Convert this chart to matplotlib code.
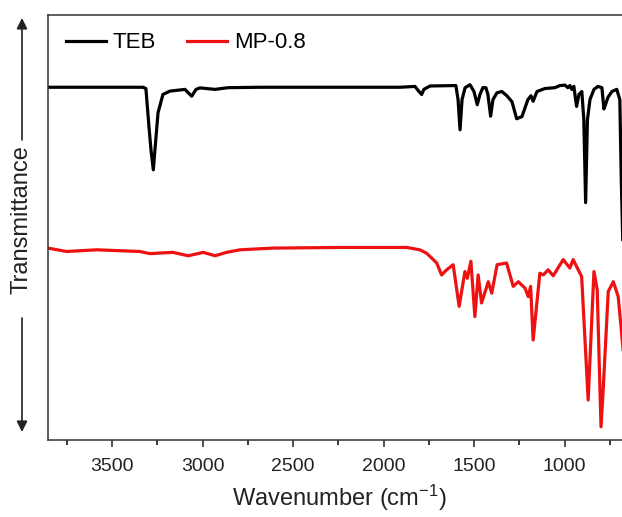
import matplotlib
matplotlib.use("Agg")
import matplotlib.pyplot as plt
from matplotlib.ticker import MultipleLocator

plt.rcParams['font.family'] = ['Liberation Sans', 'DejaVu Sans']
plt.rcParams['mathtext.fontset'] = 'custom'
plt.rcParams['mathtext.rm'] = 'Liberation Sans'
plt.rcParams['mathtext.it'] = 'Liberation Sans'

# FTIR spectra (wavenumber in cm-1, transmittance in a.u.)
teb_wn = [3855, 3330, 3314, 3297, 3286, 3273, 3264, 3247, 3220, 3181, 3098, 3061,
          3037, 3015, 2932, 2861, 2684, 1910, 1827, 1805, 1790, 1778, 1744, 1601,
          1589, 1578, 1567, 1550, 1523, 1501, 1483, 1468, 1452, 1435, 1424, 1409,
          1396, 1374, 1347, 1319, 1291, 1265, 1236, 1203, 1186, 1174, 1153, 1109,
          1054, 1026, 998, 982, 971, 960, 949, 934, 921, 905, 894, 884, 874, 860,
          838, 816, 794, 783, 772, 761, 739, 712, 695, 687, 679]
teb_t = [82.9, 82.9, 82.6, 73.6, 68.2, 63.5, 68.2, 76.9, 81.2, 82.0, 82.4, 80.8,
         82.4, 82.75, 82.4, 82.8, 82.9, 82.9, 83.1, 81.9, 81.2, 82.4, 83.2, 83.3,
         80.0, 72.9, 80.0, 82.8, 83.5, 81.9, 78.8, 81.2, 82.8, 82.8, 81.2, 76.1,
         80.0, 81.6, 81.9, 80.9, 79.5, 75.5, 76.0, 80.0, 80.9, 79.6, 81.9, 82.6,
         82.8, 83.3, 83.4, 82.8, 83.3, 82.4, 83.1, 78.4, 81.2, 81.9, 75.3, 55.8,
         75.3, 80.0, 82.4, 83.1, 82.8, 77.8, 79.1, 80.5, 81.9, 82.4, 80.0, 61.2,
         47.1]

mp_wn = [3855, 3752, 3586, 3347, 3292, 3165, 3080, 2997, 2932, 2868, 2794, 2612,
         2242, 1873, 1800, 1763, 1726, 1707, 1680, 1652, 1616, 1583, 1551, 1538,
         1518, 1496, 1478, 1459, 1422, 1403, 1373, 1321, 1284, 1256, 1219, 1201,
         1188, 1174, 1137, 1118, 1091, 1063, 1008, 971, 953, 906, 870, 838, 820,
         799, 787, 759, 731, 704, 685, 667]
mp_t = [45.1, 44.3, 44.7, 44.3, 43.8, 44.1, 43.3, 44.1, 43.3, 44.1, 44.7, 45.1,
        45.25, 45.25, 44.7, 43.9, 42.4, 41.6, 38.8, 40.0, 41.2, 31.4, 39.6, 38.0,
        42.0, 29.0, 38.8, 32.2, 37.2, 34.5, 41.2, 41.6, 36.1, 37.2, 35.7, 33.7,
        36.1, 23.5, 39.2, 38.8, 40.0, 38.6, 42.4, 40.4, 42.4, 38.4, 9.4, 39.6,
        35.3, 3.1, 11.8, 34.9, 37.2, 33.7, 25.1, 16.0]

fig = plt.figure(figsize=(6.22, 5.17), dpi=100)
ax = fig.add_axes([48/622, 1 - 440/517, 1 - 48/622, (440 - 14.5)/517])

ax.plot(teb_wn, teb_t, color='black', lw=2.3, label='TEB')
ax.plot(mp_wn, mp_t, color='#ee1111', lw=2.3, label='MP-0.8')

ax.set_xlim(3855, 683)
ax.set_ylim(0, 100)
ax.xaxis.set_major_locator(MultipleLocator(500))
ax.xaxis.set_minor_locator(MultipleLocator(250))
ax.tick_params(axis='x', which='major', direction='out', length=5, width=1.1,
               labelsize=14, pad=8, colors='#222222')
ax.tick_params(axis='x', which='minor', direction='out', length=3.5, width=1.1)
ax.set_yticks([])
ax.spines['right'].set_visible(False)
for s in ['left', 'top', 'bottom']:
    ax.spines[s].set_linewidth(1.1)
    ax.spines[s].set_color('#333333')

fig.text(0.545, 0.037, 'Wavenumber (cm$^{-1}$)', ha='center', va='center',
         fontsize=17, color='#222222')

# y label with arrows
fig.text(22/622, 1 - 220/517, 'Transmittance', rotation=90, ha='center',
         va='center', fontsize=17, color='#222222')
ax.annotate('', xy=(22/622, 1 - 18/517), xytext=(22/622, 1 - 140/517),
            xycoords='figure fraction', textcoords='figure fraction',
            arrowprops=dict(arrowstyle='-|>', lw=1.2, color='#222222',
                            mutation_scale=16, shrinkA=0, shrinkB=0))
ax.annotate('', xy=(22/622, 1 - 432/517), xytext=(22/622, 1 - 318/517),
            xycoords='figure fraction', textcoords='figure fraction',
            arrowprops=dict(arrowstyle='-|>', lw=1.2, color='#222222',
                            mutation_scale=16, shrinkA=0, shrinkB=0))

ax.legend(loc='center left', bbox_to_anchor=(66/622, 1 - 43/517),
          bbox_transform=fig.transFigure, frameon=False, ncol=2, fontsize=16,
          handlelength=1.8, handletextpad=0.3, columnspacing=1.4,
          borderpad=0, borderaxespad=0)

fig.savefig('out.png', dpi=100)
